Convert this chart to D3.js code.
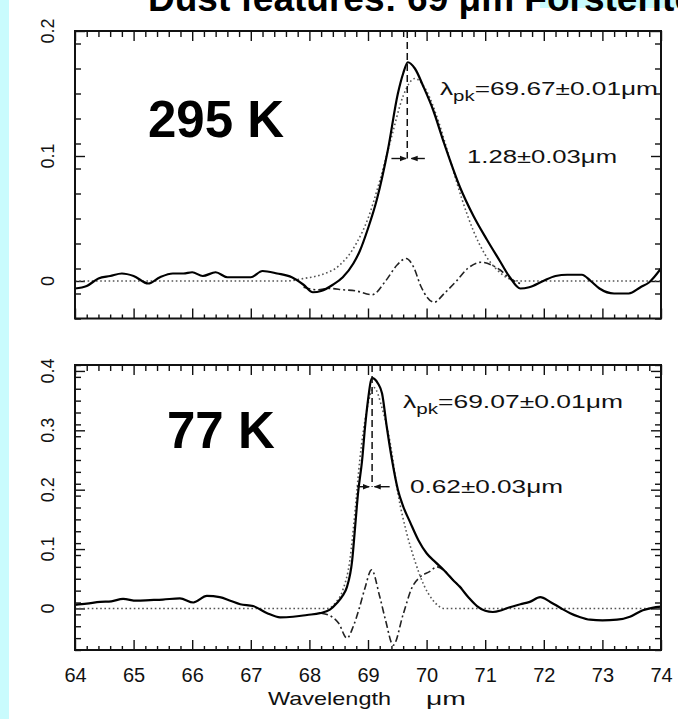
<!DOCTYPE html>
<html>
<head>
<meta charset="utf-8">
<script src="https://cdn.jsdelivr.net/npm/d3@7"></script>
<style>
    html, body { margin: 0; padding: 0; background: #c9fbfd; }
    svg { display: block; }
    text { font-family: "Liberation Sans", Arial, sans-serif; }
</style>
</head>
<body>
<div id="chart"></div>
<script>
// wavelength ticks (um)
const wavelengthTicks = [64, 65, 66, 67, 68, 69, 70, 71, 72, 73, 74];
const warmYTicks = [0, 0.1, 0.2];
const coldYTicks = [0, 0.1, 0.2, 0.3, 0.4];

// 295 K : measured band
const warmLam = [64.0, 64.2, 64.4, 64.6, 64.8, 65.0, 65.25, 65.45, 65.67, 65.85, 66.0, 66.18, 66.4, 66.6, 66.85, 67.0, 67.2, 67.45, 67.7, 67.9, 68.06, 68.2, 68.4, 68.57, 68.75, 68.86, 69.0, 69.15, 69.34, 69.51, 69.6, 69.68, 69.8, 69.95, 70.11, 70.3, 70.57, 70.8, 71.03, 71.25, 71.42, 71.6, 71.75, 71.99, 72.2, 72.4, 72.65, 72.8, 72.95, 73.2, 73.45, 73.65, 73.8, 74.0];
const warmFlux = [-0.006, -0.004, 0.002, 0.004, 0.006, 0.004, -0.002, 0.003, 0.006, 0.006, 0.007, 0.004, 0.007, 0.003, 0.003, 0.003, 0.008, 0.006, 0.003, -0.003, -0.009, -0.008, -0.003, 0.003, 0.014, 0.024, 0.042, 0.065, 0.105, 0.150, 0.166, 0.175, 0.170, 0.155, 0.137, 0.110, 0.075, 0.052, 0.033, 0.016, 0.003, -0.006, -0.005, 0.0, 0.004, 0.005, 0.005, 0.0, -0.006, -0.010, -0.010, -0.005, -0.001, 0.010];
// 295 K : fitted profile (dotted)
const warmFitLam = [64.0, 67.6, 67.9, 68.2, 68.5, 68.8, 69.0, 69.2, 69.4, 69.6, 69.8, 70.0, 70.2, 70.4, 70.6, 70.8, 71.0, 71.2, 71.4, 71.6, 74.0];
const warmFit = [0, 0, 0.002, 0.005, 0.012, 0.030, 0.050, 0.080, 0.115, 0.148, 0.162, 0.152, 0.128, 0.097, 0.066, 0.040, 0.021, 0.009, 0.002, 0, 0];
// 295 K : residual (dash-dot)
const warmResLam = [67.9, 68.13, 68.35, 68.57, 68.8, 69.07, 69.3, 69.5, 69.65, 69.78, 69.9, 70.13, 70.3, 70.51, 70.7, 70.93, 71.1, 71.25, 71.42, 71.6];
const warmRes = [-0.005, -0.007, -0.006, -0.007, -0.008, -0.011, 0.0, 0.013, 0.018, 0.011, -0.004, -0.017, -0.010, 0.0, 0.010, 0.015, 0.013, 0.009, 0.002, -0.002];

// 77 K : measured band
const coldLam = [64.0, 64.2, 64.43, 64.62, 64.82, 65.05, 65.28, 65.5, 65.79, 66.02, 66.25, 66.47, 66.65, 66.82, 67.04, 67.28, 67.5, 67.72, 67.96, 68.18, 68.35, 68.47, 68.57, 68.64, 68.73, 68.78, 68.83, 68.9, 68.95, 69.0, 69.07, 69.17, 69.24, 69.32, 69.41, 69.51, 69.6, 69.72, 69.86, 70.0, 70.15, 70.28, 70.45, 70.57, 70.72, 70.86, 71.0, 71.13, 71.28, 71.42, 71.6, 71.76, 71.94, 72.11, 72.3, 72.45, 72.6, 72.79, 73.0, 73.25, 73.47, 73.69, 73.85, 74.0];
const coldFlux = [0.006, 0.008, 0.011, 0.012, 0.016, 0.013, 0.014, 0.015, 0.017, 0.010, 0.021, 0.019, 0.013, 0.007, 0.004, -0.008, -0.015, -0.014, -0.011, -0.008, -0.002, 0.009, 0.022, 0.036, 0.081, 0.137, 0.194, 0.250, 0.306, 0.351, 0.388, 0.379, 0.362, 0.306, 0.250, 0.200, 0.172, 0.145, 0.115, 0.093, 0.078, 0.066, 0.048, 0.036, 0.018, 0.004, -0.004, -0.006, -0.003, 0.002, 0.007, 0.011, 0.019, 0.011, 0.0, -0.008, -0.014, -0.019, -0.020, -0.019, -0.014, -0.003, 0.001, 0.003];
// 77 K : fitted profile (dotted)
const coldFitLam = [64.0, 68.3, 68.45, 68.57, 68.69, 68.78, 68.86, 68.98, 69.1, 69.25, 69.38, 69.51, 69.66, 69.8, 69.95, 70.1, 70.3, 74.0];
const coldFit = [0, 0, 0.010, 0.031, 0.081, 0.165, 0.250, 0.334, 0.372, 0.334, 0.278, 0.194, 0.127, 0.080, 0.040, 0.015, 0, 0];
// 77 K : residual (dash-dot)
const coldResLam = [68.2, 68.35, 68.5, 68.64, 68.75, 68.85, 68.95, 69.06, 69.2, 69.3, 69.43, 69.6, 69.75, 69.89, 70.05, 70.18, 70.3, 70.45, 70.6];
const coldRes = [-0.008, -0.012, -0.025, -0.050, -0.030, 0.0, 0.035, 0.065, 0.020, -0.020, -0.062, -0.010, 0.035, 0.053, 0.062, 0.070, 0.064, 0.048, 0.034];

// peak / width markers
const warmPeak = 69.67, warmArrowY = 0.098, warmArrowL = [69.40, 69.65], warmArrowR = [69.97, 69.74];
const coldPeak = 69.07, coldArrowY = 0.205, coldArrowL = [68.81, 69.02], coldArrowR = [69.37, 69.11];

const svg = d3.select("#chart").append("svg").attr("width", 678).attr("height", 719);

svg.append("rect").attr("width", 678).attr("height", 719).attr("fill", "#c9fbfd");
svg.append("rect").attr("x", 9).attr("y", 0).attr("width", 669).attr("height", 719).attr("fill", "#ffffff");
svg.append("rect").attr("x", 540).attr("y", 0).attr("width", 138).attr("height", 8).attr("fill", "#c9fbfd");

svg.append("text")
    .attr("x", 148).attr("y", 11)
    .attr("font-size", 37).attr("font-weight", "bold")
    .text("Dust features: 69 μm Forsterite");

const defs = svg.append("defs");
defs.append("marker")
    .attr("id", "head")
    .attr("viewBox", "0 0 10 10")
    .attr("refX", 9).attr("refY", 5)
    .attr("markerWidth", 5).attr("markerHeight", 5)
    .attr("orient", "auto")
    .append("path").attr("d", "M0,1 L10,5 L0,9 Z").attr("fill", "#111");

const x = d3.scaleLinear().domain([64, 74]).range([75, 661]);
const xMinor = d3.range(64, 74.001, 0.2).filter((v) => Math.abs(v - Math.round(v)) > 0.01);

const drawPanel = (cfg) => {
    const y = cfg.y;
    const [yb, yt] = y.range();
    const g = svg.append("g");
    const clipId = `clip-${cfg.id}`;

    defs.append("clipPath").attr("id", clipId)
        .append("rect").attr("x", 75).attr("y", yt).attr("width", 586).attr("height", yb - yt);

    const strip = (sel) => sel.call((a) => a.select(".domain").remove());
    const yMinor = d3.range(y.domain()[0], y.domain()[1] + 0.0001, 0.02)
        .map((v) => Math.round(v * 100) / 100)
        .filter((v) => Math.abs(v * 10 - Math.round(v * 10)) > 0.01);

    // x ticks, bottom and top
    g.append("g").attr("transform", `translate(0,${yb})`)
        .call(d3.axisBottom(x).tickValues(wavelengthTicks).tickSize(-10).tickFormat(cfg.xLabels ? d3.format("d") : "").tickPadding(18))
        .call(strip);
    g.append("g").attr("transform", `translate(0,${yb})`)
        .call(d3.axisBottom(x).tickValues(xMinor).tickSize(-4).tickFormat(""))
        .call(strip);
    g.append("g").attr("transform", `translate(0,${yt})`)
        .call(d3.axisTop(x).tickValues(wavelengthTicks).tickSize(-10).tickFormat(""))
        .call(strip);
    g.append("g").attr("transform", `translate(0,${yt})`)
        .call(d3.axisTop(x).tickValues(xMinor).tickSize(-6).tickFormat(""))
        .call(strip);

    // y ticks, left and right
    [["axisLeft", 75], ["axisRight", 661]].forEach(([fn, px]) => {
        g.append("g").attr("transform", `translate(${px},0)`)
            .call(d3[fn](y).tickValues(cfg.yTicks).tickSize(-10).tickFormat(""))
            .call(strip);
        g.append("g").attr("transform", `translate(${px},0)`)
            .call(d3[fn](y).tickValues(yMinor).tickSize(-6).tickFormat(""))
            .call(strip);
    });

    g.selectAll(".tick line").attr("stroke", "#111").attr("stroke-width", 1.4);
    g.selectAll(".tick text").attr("font-size", 20).attr("fill", "#111")
        .attr("font-family", "'Liberation Sans', Arial, sans-serif");

    // rotated y labels
    g.selectAll(".ylab").data(cfg.yTicks).join("text")
        .attr("class", "ylab")
        .attr("transform", (d) => `translate(54,${y(d)}) rotate(-90)`)
        .attr("text-anchor", "middle")
        .attr("font-size", 18).attr("fill", "#111")
        .text((d) => d3.format("")(d));

    const plot = g.append("g").attr("clip-path", `url(#${clipId})`);
    const line = d3.line().x((d) => x(d[0])).y((d) => y(d[1])).curve(d3.curveMonotoneX);

    plot.append("path").datum(d3.zip(cfg.fitLam, cfg.fit))
        .attr("d", line).attr("fill", "none")
        .attr("stroke", "#555").attr("stroke-width", 1.6).attr("stroke-dasharray", "1.6 2.6");
    plot.append("path").datum(d3.zip(cfg.resLam, cfg.res))
        .attr("d", line).attr("fill", "none")
        .attr("stroke", "#222").attr("stroke-width", 1.6).attr("stroke-dasharray", "7 3 2 3");
    plot.append("path").datum(d3.zip(cfg.lam, cfg.flux))
        .attr("d", line).attr("fill", "none")
        .attr("stroke", "#000").attr("stroke-width", 2.2).attr("stroke-linejoin", "round");

    // peak marker and width arrows
    g.append("line")
        .attr("x1", x(cfg.peak)).attr("x2", x(cfg.peak))
        .attr("y1", yt).attr("y2", y(cfg.arrowY))
        .attr("stroke", "#111").attr("stroke-width", 1.5).attr("stroke-dasharray", "7 4");
    [cfg.arrowL, cfg.arrowR].forEach((a) => {
        g.append("line")
            .attr("x1", x(a[0])).attr("x2", x(a[1]))
            .attr("y1", y(cfg.arrowY)).attr("y2", y(cfg.arrowY))
            .attr("stroke", "#111").attr("stroke-width", 1.4)
            .attr("marker-end", "url(#head)");
    });

    // frame
    g.append("rect")
        .attr("x", 75).attr("y", yt).attr("width", 586).attr("height", yb - yt)
        .attr("fill", "none").attr("stroke", "#111").attr("stroke-width", 2);

    // annotations
    const pk = g.append("text")
        .attr("x", cfg.pkPos[0]).attr("y", cfg.pkPos[1])
        .attr("font-size", 18).attr("fill", "#111")
        .attr("textLength", cfg.pkPos[2]).attr("lengthAdjust", "spacingAndGlyphs");
    pk.append("tspan").text("λ");
    pk.append("tspan").attr("dy", 6).attr("font-size", 14).text("pk");
    pk.append("tspan").attr("dy", -6).text(cfg.pkText);

    g.append("text")
        .attr("x", cfg.wPos[0]).attr("y", cfg.wPos[1])
        .attr("font-size", 18).attr("fill", "#111")
        .attr("textLength", cfg.wPos[2]).attr("lengthAdjust", "spacingAndGlyphs")
        .text(cfg.wText);

    g.append("text")
        .attr("x", cfg.tPos[0]).attr("y", cfg.tPos[1])
        .attr("font-size", 51).attr("font-weight", "bold").attr("fill", "#000")
        .text(cfg.temp);
};

drawPanel({
    id: "warm",
    y: d3.scaleLinear().domain([-0.03, 0.2]).range([318.5, 31]),
    yTicks: warmYTicks,
    xLabels: false,
    lam: warmLam, flux: warmFlux,
    fitLam: warmFitLam, fit: warmFit,
    resLam: warmResLam, res: warmRes,
    peak: warmPeak, arrowY: warmArrowY, arrowL: warmArrowL, arrowR: warmArrowR,
    pkText: "=69.67±0.01μm", pkPos: [440, 95, 218],
    wText: "1.28±0.03μm", wPos: [467, 163, 150],
    temp: "295 K", tPos: [148, 137],
});

drawPanel({
    id: "cold",
    y: d3.scaleLinear().domain([-0.07, 0.41]).range([650, 365]),
    yTicks: coldYTicks,
    xLabels: true,
    lam: coldLam, flux: coldFlux,
    fitLam: coldFitLam, fit: coldFit,
    resLam: coldResLam, res: coldRes,
    peak: coldPeak, arrowY: coldArrowY, arrowL: coldArrowL, arrowR: coldArrowR,
    pkText: "=69.07±0.01μm", pkPos: [403, 408, 220],
    wText: "0.62±0.03μm", wPos: [410, 493, 153],
    temp: "77 K", tPos: [167, 448],
});

// x axis title
svg.append("text").attr("x", 268).attr("y", 705)
    .attr("font-size", 19).attr("fill", "#111")
    .attr("textLength", 123).attr("lengthAdjust", "spacingAndGlyphs")
    .text("Wavelength");
svg.append("text").attr("x", 426).attr("y", 705)
    .attr("font-size", 19).attr("fill", "#111")
    .attr("textLength", 40).attr("lengthAdjust", "spacingAndGlyphs")
    .text("μm");
</script>
</body>
</html>
